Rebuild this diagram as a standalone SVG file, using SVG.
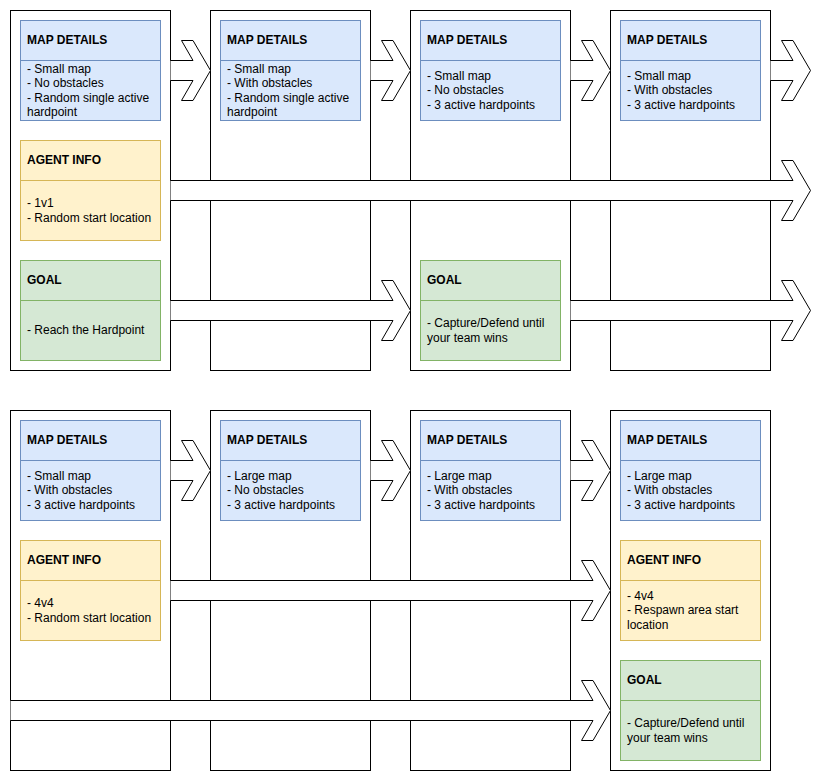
<svg xmlns="http://www.w3.org/2000/svg" width="821" height="782" viewBox="0 0 821 782">
<defs>
<style>
.panel{fill:#ffffff;stroke:#000000;stroke-width:1}
.blue{fill:#dae8fc;stroke:#6c8ebf;stroke-width:1}
.yellow{fill:#fff2cc;stroke:#d6b656;stroke-width:1}
.green{fill:#d5e8d4;stroke:#82b366;stroke-width:1}
.arrow{fill:#ffffff;stroke:#000000;stroke-width:1;stroke-linejoin:miter}
text{font-family:"Liberation Sans",Arial,Helvetica,sans-serif;font-size:12px;fill:#000000}
.h{font-weight:bold}
</style>
</defs>
<rect x="0" y="0" width="821" height="782" fill="#ffffff"/>

<!-- TOP ROW -->
<g id="panel-t1">
<rect class="panel" x="10.5" y="10.5" width="160" height="360"/>
<g id="map-t1"><rect class="blue" x="20.5" y="20.5" width="140" height="100"/><line class="blue" x1="20.5" y1="60.5" x2="160.5" y2="60.5"/>
<text class="h" x="27" y="44">MAP DETAILS</text>
<text x="27" y="73">- Small map</text><text x="27" y="87.4">- No obstacles</text><text x="27" y="101.8">- Random single active</text><text x="27" y="116.2">hardpoint</text></g>
<g id="agent-t1"><rect class="yellow" x="20.5" y="140.5" width="140" height="100"/><line class="yellow" x1="20.5" y1="180.5" x2="160.5" y2="180.5"/>
<text class="h" x="27" y="164">AGENT INFO</text>
<text x="27" y="207.3">- 1v1</text><text x="27" y="221.7">- Random start location</text></g>
<g id="goal-t1"><rect class="green" x="20.5" y="260.5" width="140" height="100"/><line class="green" x1="20.5" y1="300.5" x2="160.5" y2="300.5"/>
<text class="h" x="27" y="284">GOAL</text>
<text x="27" y="334.3">- Reach the Hardpoint</text></g>
</g>

<g id="panel-t2">
<rect class="panel" x="210.5" y="10.5" width="160" height="360"/>
<g id="map-t2"><rect class="blue" x="220.5" y="20.5" width="140" height="100"/><line class="blue" x1="220.5" y1="60.5" x2="360.5" y2="60.5"/>
<text class="h" x="227" y="44">MAP DETAILS</text>
<text x="227" y="73">- Small map</text><text x="227" y="87.4">- With obstacles</text><text x="227" y="101.8">- Random single active</text><text x="227" y="116.2">hardpoint</text></g>
</g>

<g id="panel-t3">
<rect class="panel" x="410.5" y="10.5" width="160" height="360"/>
<g id="map-t3"><rect class="blue" x="420.5" y="20.5" width="140" height="100"/><line class="blue" x1="420.5" y1="60.5" x2="560.5" y2="60.5"/>
<text class="h" x="427" y="44">MAP DETAILS</text>
<text x="427" y="80">- Small map</text><text x="427" y="94.4">- No obstacles</text><text x="427" y="108.8">- 3 active hardpoints</text></g>
<g id="goal-t3"><rect class="green" x="420.5" y="260.5" width="140" height="100"/><line class="green" x1="420.5" y1="300.5" x2="560.5" y2="300.5"/>
<text class="h" x="427" y="284">GOAL</text>
<text x="427" y="327.3">- Capture/Defend until</text><text x="427" y="341.7">your team wins</text></g>
</g>

<g id="panel-t4">
<rect class="panel" x="610.5" y="10.5" width="160" height="360"/>
<g id="map-t4"><rect class="blue" x="620.5" y="20.5" width="140" height="100"/><line class="blue" x1="620.5" y1="60.5" x2="760.5" y2="60.5"/>
<text class="h" x="627" y="44">MAP DETAILS</text>
<text x="627" y="80">- Small map</text><text x="627" y="94.4">- With obstacles</text><text x="627" y="108.8">- 3 active hardpoints</text></g>
</g>

<!-- BOTTOM ROW -->
<g id="panel-b1">
<rect class="panel" x="10.5" y="410.5" width="160" height="360"/>
<g id="map-b1"><rect class="blue" x="20.5" y="420.5" width="140" height="100"/><line class="blue" x1="20.5" y1="460.5" x2="160.5" y2="460.5"/>
<text class="h" x="27" y="444">MAP DETAILS</text>
<text x="27" y="480">- Small map</text><text x="27" y="494.4">- With obstacles</text><text x="27" y="508.8">- 3 active hardpoints</text></g>
<g id="agent-b1"><rect class="yellow" x="20.5" y="540.5" width="140" height="100"/><line class="yellow" x1="20.5" y1="580.5" x2="160.5" y2="580.5"/>
<text class="h" x="27" y="564">AGENT INFO</text>
<text x="27" y="607.3">- 4v4</text><text x="27" y="621.7">- Random start location</text></g>
</g>

<g id="panel-b2">
<rect class="panel" x="210.5" y="410.5" width="160" height="360"/>
<g id="map-b2"><rect class="blue" x="220.5" y="420.5" width="140" height="100"/><line class="blue" x1="220.5" y1="460.5" x2="360.5" y2="460.5"/>
<text class="h" x="227" y="444">MAP DETAILS</text>
<text x="227" y="480">- Large map</text><text x="227" y="494.4">- No obstacles</text><text x="227" y="508.8">- 3 active hardpoints</text></g>
</g>

<g id="panel-b3">
<rect class="panel" x="410.5" y="410.5" width="160" height="360"/>
<g id="map-b3"><rect class="blue" x="420.5" y="420.5" width="140" height="100"/><line class="blue" x1="420.5" y1="460.5" x2="560.5" y2="460.5"/>
<text class="h" x="427" y="444">MAP DETAILS</text>
<text x="427" y="480">- Large map</text><text x="427" y="494.4">- With obstacles</text><text x="427" y="508.8">- 3 active hardpoints</text></g>
</g>

<g id="panel-b4">
<rect class="panel" x="610.5" y="410.5" width="160" height="360"/>
<g id="map-b4"><rect class="blue" x="620.5" y="420.5" width="140" height="100"/><line class="blue" x1="620.5" y1="460.5" x2="760.5" y2="460.5"/>
<text class="h" x="627" y="444">MAP DETAILS</text>
<text x="627" y="480">- Large map</text><text x="627" y="494.4">- With obstacles</text><text x="627" y="508.8">- 3 active hardpoints</text></g>
<g id="agent-b4"><rect class="yellow" x="620.5" y="540.5" width="140" height="100"/><line class="yellow" x1="620.5" y1="580.5" x2="760.5" y2="580.5"/>
<text class="h" x="627" y="564">AGENT INFO</text>
<text x="627" y="600">- 4v4</text><text x="627" y="614.4">- Respawn area start</text><text x="627" y="628.8">location</text></g>
<g id="goal-b4"><rect class="green" x="620.5" y="660.5" width="140" height="100"/><line class="green" x1="620.5" y1="700.5" x2="760.5" y2="700.5"/>
<text class="h" x="627" y="684">GOAL</text>
<text x="627" y="727.3">- Capture/Defend until</text><text x="627" y="741.7">your team wins</text></g>
</g>

<!-- CONNECTORS -->
<g id="connectors">
<path class="arrow" d="M170.5,60.5 L193,60.5 L181.5,40.5 L193,40.5 L210.5,70.5 L193,100.5 L181.5,100.5 L193,80.5 L170.5,80.5"/>
<path class="arrow" d="M370.5,60.5 L393,60.5 L381.5,40.5 L393,40.5 L410.5,70.5 L393,100.5 L381.5,100.5 L393,80.5 L370.5,80.5"/>
<path class="arrow" d="M570.5,60.5 L593,60.5 L581.5,40.5 L593,40.5 L610.5,70.5 L593,100.5 L581.5,100.5 L593,80.5 L570.5,80.5"/>
<path class="arrow" d="M770.5,60.5 L793,60.5 L781.5,40.5 L793,40.5 L810.5,70.5 L793,100.5 L781.5,100.5 L793,80.5 L770.5,80.5"/>
<path class="arrow" d="M170.5,180.5 L793,180.5 L781.5,160.5 L793,160.5 L810.5,190.5 L793,220.5 L781.5,220.5 L793,200.5 L170.5,200.5"/>
<path class="arrow" d="M170.5,300.5 L393,300.5 L381.5,280.5 L393,280.5 L410.5,310.5 L393,340.5 L381.5,340.5 L393,320.5 L170.5,320.5"/>
<path class="arrow" d="M570.5,300.5 L793,300.5 L781.5,280.5 L793,280.5 L810.5,310.5 L793,340.5 L781.5,340.5 L793,320.5 L570.5,320.5"/>
<path class="arrow" d="M170.5,460.5 L193,460.5 L181.5,440.5 L193,440.5 L210.5,470.5 L193,500.5 L181.5,500.5 L193,480.5 L170.5,480.5"/>
<path class="arrow" d="M370.5,460.5 L393,460.5 L381.5,440.5 L393,440.5 L410.5,470.5 L393,500.5 L381.5,500.5 L393,480.5 L370.5,480.5"/>
<path class="arrow" d="M570.5,460.5 L593,460.5 L581.5,440.5 L593,440.5 L610.5,470.5 L593,500.5 L581.5,500.5 L593,480.5 L570.5,480.5"/>
<path class="arrow" d="M170.5,580.5 L593,580.5 L581.5,560.5 L593,560.5 L610.5,590.5 L593,620.5 L581.5,620.5 L593,600.5 L170.5,600.5"/>
<path class="arrow" d="M10.5,700.5 L593,700.5 L581.5,680.5 L593,680.5 L610.5,710.5 L593,740.5 L581.5,740.5 L593,720.5 L10.5,720.5"/>
</g>
</svg>
